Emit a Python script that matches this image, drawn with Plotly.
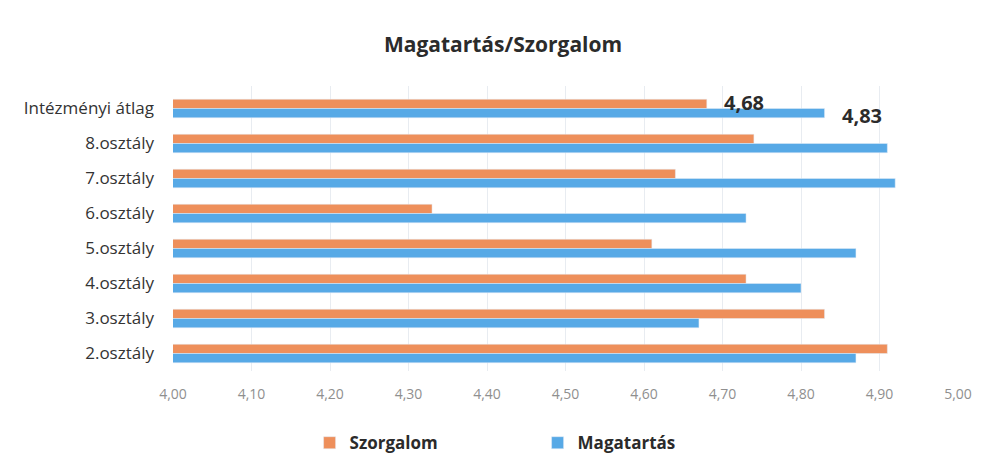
import plotly.graph_objects as go

# Kategóriák felülről lefelé
kategoriak = ['Intézményi átlag', '8.osztály', '7.osztály', '6.osztály',
              '5.osztály', '4.osztály', '3.osztály', '2.osztály']
szorgalom = [4.68, 4.74, 4.64, 4.33, 4.61, 4.73, 4.83, 4.91]
magatartas = [4.83, 4.91, 4.92, 4.73, 4.87, 4.80, 4.67, 4.87]
tick_ertekek = [4.0, 4.1, 4.2, 4.3, 4.4, 4.5, 4.6, 4.7, 4.8, 4.9, 5.0]

narancs = '#EE8F5B'
kek = '#57A9E6'

fig = go.Figure()
fig.add_trace(go.Bar(y=kategoriak, x=szorgalom, orientation='h', name='Szorgalom',
                     marker_color=narancs, base=0))
fig.add_trace(go.Bar(y=kategoriak, x=magatartas, orientation='h', name='Magatartás',
                     marker_color=kek, base=0))

# Adatcímkék csak az intézményi átlagnál
atlag = kategoriak[0]
for ertek, eltolas in [(szorgalom[0], 6), (magatartas[0], -7)]:
    fig.add_annotation(x=ertek, y=atlag, text=f'{ertek:.2f}'.replace('.', ','),
                       showarrow=False, xanchor='left', xshift=15, yshift=eltolas,
                       font=dict(family='Open Sans', size=20, color='#2b2b2b', weight='bold'))

fig.update_layout(
    title=dict(text='<b>Magatartás/Szorgalom</b>', x=0.5, xanchor='center',
               y=0.922, yanchor='middle',
               font=dict(family='Open Sans', size=21, color='#2b2b2b')),
    barmode='group',
    bargap=0.47,
    bargroupgap=0,
    separators=', ',
    xaxis=dict(range=[4.0, 5.0], tickvals=tick_ertekek, tickformat='.2f',
               showgrid=True, gridcolor='#e8ecf1', zeroline=False, showline=False,
               tickfont=dict(family='Open Sans', size=14, color='#8f8f8f'),
               ticks='', ticklabelstandoff=13),
    yaxis=dict(autorange='reversed', showgrid=False, showline=False, ticks='',
               tickfont=dict(family='Open Sans', size=17, color='#333333'),
               ticklabelstandoff=18),
    legend=dict(orientation='h', x=0.174, xanchor='left', y=-0.19, yanchor='top',
                font=dict(family='Open Sans', size=17, color='#2b2b2b', weight='bold'),
                itemwidth=30, entrywidth=183),
    plot_bgcolor='white',
    paper_bgcolor='white',
    margin=dict(l=165, r=40, t=78, b=112),
    width=990,
    height=475,
)

fig.write_html('out.html')
